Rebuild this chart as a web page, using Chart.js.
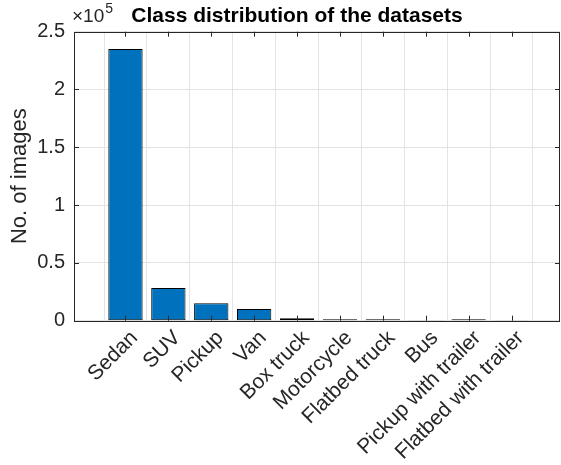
<!DOCTYPE html>
<html>
<head>
<meta charset="utf-8">
<script src="https://cdn.jsdelivr.net/npm/chart.js@4/dist/chart.umd.min.js"></script>
<style>
html,body{margin:0;padding:0;background:#fff;}
#wrap{width:561px;height:465px;position:relative;}
</style>
</head>
<body>
<div id="wrap"><canvas id="c" width="561" height="465"></canvas></div>
<script>
const categories = ['Sedan','SUV','Pickup','Van','Box truck','Motorcycle','Flatbed truck','Bus','Pickup with trailer','Flatbed with trailer'];
const imageCounts = [235000, 28300, 15100, 10100, 2200, 1200, 1200, 150, 1200, 80];
const yTickValues = [0, 50000, 100000, 150000, 200000, 250000];
const yTickLabels = ['0','0.5','1','1.5','2','2.5'];
const chartTitle = 'Class distribution of the datasets';
const yAxisTitle = 'No. of images';
const exponentBase = '\u00d710';
const exponentPower = '5';

const FONT = '"Liberation Sans", Arial, Helvetica, sans-serif';
const AXIS = '#262626';

const decor = {
  id: 'decor',
  afterDraw(chart) {
    const ctx = chart.ctx;
    const a = chart.chartArea;
    const xs = chart.scales.x, ys = chart.scales.y;
    ctx.save();
    ctx.strokeStyle = AXIS;
    ctx.lineWidth = 1;
    ctx.strokeRect(Math.round(a.left) + 0.5, Math.round(a.top) + 0.5, Math.round(a.right - a.left) - 1, Math.round(a.bottom - a.top));
    const tl = 5;
    ctx.beginPath();
    categories.forEach((_, i) => {
      const px = Math.round(xs.getPixelForValue(i + 1)) + 0.5;
      ctx.moveTo(px, a.bottom); ctx.lineTo(px, a.bottom - tl);
      ctx.moveTo(px, a.top); ctx.lineTo(px, a.top + tl);
    });
    yTickValues.forEach(v => {
      const py = Math.round(ys.getPixelForValue(v)) + 0.5;
      ctx.moveTo(a.left, py); ctx.lineTo(a.left + tl, py);
      ctx.moveTo(a.right, py); ctx.lineTo(a.right - tl, py);
    });
    ctx.stroke();
    ctx.fillStyle = '#000';
    ctx.font = 'bold 21px ' + FONT;
    ctx.textAlign = 'center';
    ctx.textBaseline = 'alphabetic';
    ctx.fillText(chartTitle, 297, 22);
    ctx.fillStyle = AXIS;
    ctx.font = '19px ' + FONT;
    ctx.textAlign = 'left';
    ctx.fillText(exponentBase, 72, 22);
    const w = ctx.measureText(exponentBase).width;
    ctx.font = '14px ' + FONT;
    ctx.fillText(exponentPower, 72 + w + 1, 13);
    ctx.restore();
  }
};

new Chart(document.getElementById('c'), {
  type: 'bar',
  data: {
    datasets: [{
      data: imageCounts.map((v, i) => ({x: i + 1, y: v})),
      backgroundColor: '#0072BD',
      borderColor: '#000000',
      borderWidth: 1,
      borderSkipped: false,
      barPercentage: 0.8,
      categoryPercentage: 1.0
    }]
  },
  options: {
    responsive: false,
    animation: false,
    devicePixelRatio: 1,
    layout: {padding: {left: 0, right: 1, top: 31.7, bottom: 0}},
    plugins: {legend: {display: false}, tooltip: {enabled: false}, title: {display: false}},
    scales: {
      x: {
        type: 'linear',
        min: -0.2,
        max: 11.13,
        offset: false,
        afterBuildTicks: s => { s.ticks = categories.map((_, i) => ({value: i + 1})); },
        afterFit: s => { s.height = 465 - 320.7; },
        grid: {color: '#e3e3e3', drawTicks: false, lineWidth: 1},
        border: {display: false},
        ticks: {
          autoSkip: false,
          maxRotation: 45,
          minRotation: 45,
          padding: 5,
          labelOffset: 9,
          color: AXIS,
          font: {family: FONT, size: 21},
          callback: v => categories[v - 1] || ''
        }
      },
      y: {
        min: 0,
        max: 250000,
        afterBuildTicks: s => { s.ticks = yTickValues.map(v => ({value: v})); },
        afterFit: s => { s.width = 74; },
        grid: {color: '#e3e3e3', drawTicks: false, lineWidth: 1},
        border: {display: false},
        ticks: {
          padding: 9,
          color: AXIS,
          font: {family: FONT, size: 20},
          callback: (v) => yTickLabels[yTickValues.indexOf(v)]
        },
        title: {
          display: true,
          text: yAxisTitle,
          color: AXIS,
          font: {family: FONT, size: 22},
          padding: {top: 7, bottom: 0}
        }
      }
    }
  },
  plugins: [decor]
});
</script>
</body>
</html>
